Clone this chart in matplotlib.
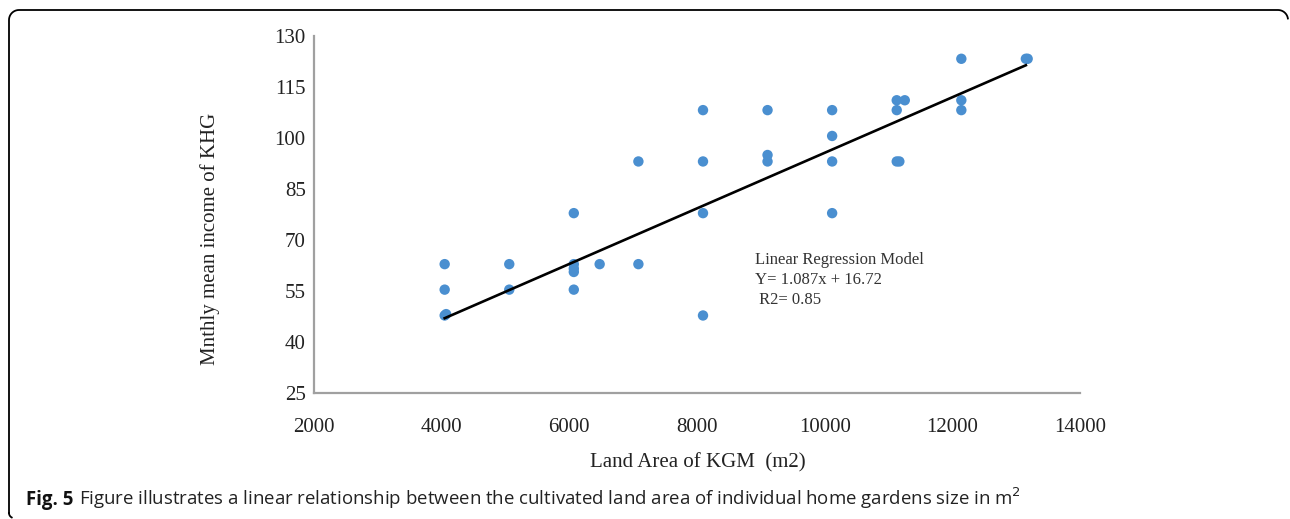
import numpy as np
import matplotlib
matplotlib.use("Agg")
import matplotlib.pyplot as plt
from matplotlib.lines import Line2D

# ---- data ----
land_area = [4047, 4047, 4047, 4070,
             5059, 5059,
             6070, 6070, 6070, 6070, 6070,
             6475,
             7082, 7082,
             8094, 8094, 8094, 8094,
             9105, 9105, 9105,
             10117, 10117, 10117, 10117,
             11129, 11255, 11129, 11129, 11170,
             12141, 12141, 12141,
             13152, 13180]
income = [62.9, 55.4, 47.8, 48.2,
          62.9, 55.4,
          77.9, 62.9, 61.6, 60.6, 55.4,
          62.9,
          62.9, 93.1,
          108.2, 93.1, 77.9, 47.8,
          108.2, 95.0, 93.1,
          108.2, 100.6, 93.1, 77.9,
          111.1, 111.1, 108.2, 93.1, 93.1,
          123.3, 111.1, 108.2,
          123.3, 123.3]
trend_x = [4047, 13152]
trend_y = [47.0, 121.4]
x_ticks = [2000, 4000, 6000, 8000, 10000, 12000, 14000]
y_ticks = [25, 40, 55, 70, 85, 100, 115, 130]

W, H = 1290, 519
fig = plt.figure(figsize=(W / 100, H / 100), dpi=100)

def fx(px):
    return px / W

def fy(py):
    return 1 - py / H

L, R, T, B = 314, 1080, 36, 393
ax = fig.add_axes([fx(L), fy(B), fx(R) - fx(L), fy(T) - fy(B)])

serif = "Liberation Serif"
ax.scatter(land_area, income, s=56, color="#4a8fd0", edgecolors="none", zorder=3)
ax.plot(trend_x, trend_y, color="black", lw=1.9, zorder=4)

ax.set_xlim(2000, 14000)
ax.set_ylim(25, 130)
ax.set_xticks(x_ticks)
ax.set_yticks(y_ticks)
ax.tick_params(length=0, labelsize=15)
ax.tick_params(axis="x", pad=18)
ax.tick_params(axis="y", pad=6)
for lab in ax.get_xticklabels() + ax.get_yticklabels():
    lab.set_fontfamily(serif)
    lab.set_color("#222222")
for s in ["top", "right"]:
    ax.spines[s].set_visible(False)
for s in ["left", "bottom"]:
    ax.spines[s].set_color("#a0a0a0")
    ax.spines[s].set_linewidth(1.6)

fig.text(fx(698), fy(467), "Land Area of KGM  (m2)", family=serif, fontsize=15,
         ha="center", va="baseline", color="#222222")
fig.text(fx(210), fy(239), "Mnthly mean income of KHG", family=serif, fontsize=15,
         ha="center", va="center", rotation=90, color="#222222")

ann = ["Linear Regression Model", "Y= 1.087x + 16.72", " R2= 0.85"]
for i, t in enumerate(ann):
    fig.text(fx(755), fy(264 + 20 * i), t, family=serif, fontsize=12,
             ha="left", va="baseline", color="#333333")

# caption, sized to span from x=26 to x=1018
cap_font = "Open Sans"
cap_rest = ("Figure illustrates a linear relationship between the cultivated land "
            "area of individual home gardens size in m$^2$")
fs = 12.0
t1 = fig.text(fx(26), fy(505), "Fig. 5", family=cap_font, fontsize=fs,
              fontweight="bold", ha="left", va="baseline", color="#111111")
t2 = fig.text(0, fy(505), cap_rest, family=cap_font, fontsize=fs,
              ha="left", va="baseline", color="#222222")
renderer = fig.canvas.get_renderer()
w0 = t1.get_window_extent(renderer).width + 5 + t2.get_window_extent(renderer).width
fs = fs * (1018 - 26) / w0
t1.set_fontsize(fs)
t2.set_fontsize(fs)
bb = t1.get_window_extent(renderer)
t2.set_x((bb.x1 + 0.4 * fs) / W)

# frame (rounded corners)
r = 10
pts = []
pts.append((9, 513))
pts.append((9, 10 + r))
th = np.linspace(np.pi, np.pi / 2, 12)
pts += [(9 + r + r * np.cos(a), 10 + r - r * np.sin(a)) for a in th]
pts.append((1278, 10))
th = np.linspace(np.pi / 2, 0.15, 12)
pts += [(1278 + r * np.cos(a), 10 + r - r * np.sin(a)) for a in th]
xs = [fx(p[0]) for p in pts]
ys = [fy(p[1]) for p in pts]
fig.add_artist(Line2D(xs, ys, transform=fig.transFigure, color="black", lw=1.3))
th = np.linspace(np.pi, np.pi * 1.35, 8)
bl = [(9 + 5 + 5 * np.cos(a), 513 - 5 * np.sin(a)) for a in th]
fig.add_artist(Line2D([fx(p[0]) for p in bl], [fy(p[1]) for p in bl],
                      transform=fig.transFigure, color="black", lw=1.3))

fig.savefig("out.png", dpi=100)
